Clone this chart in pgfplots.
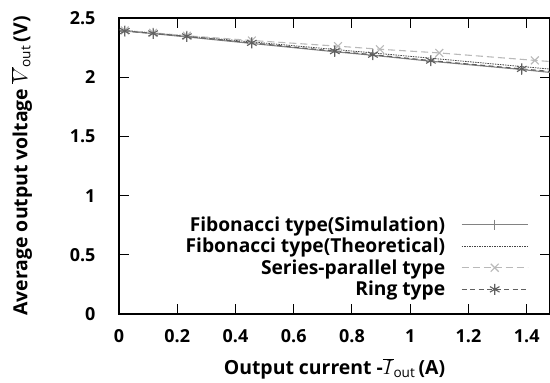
\documentclass[border=0pt]{standalone}
\usepackage{fontspec}
\setmainfont{Open Sans}
\usepackage{pgfplots}
\pgfplotsset{compat=1.18}
\usetikzlibrary{calc}
\definecolor{simc}{RGB}{130,130,130}
\definecolor{theoc}{RGB}{70,70,70}
\definecolor{spc}{RGB}{185,185,185}
\definecolor{ringc}{RGB}{95,95,95}
\begin{document}
\begin{tikzpicture}[x=1bp,y=1bp]
\begin{axis}[
  scale only axis,
  width=431bp, height=296bp,
  xmin=0, xmax=1.48, ymin=0, ymax=2.5,
  xtick={0,0.2,...,1.4}, ytick={0,0.5,...,2.5},
  tick align=inside,
  major tick length=10bp,
  axis line style={line width=1.3pt},
  tick style={line width=1pt, black},
  /pgf/number format/assume math mode=true,
  ticklabel style={font=\fontsize{18}{20}\selectfont\bfseries},
  xticklabel style={yshift=-12bp},
  yticklabel style={xshift=-20bp},
  xlabel={Output current -$\overline{I}_{\mathrm{out}}$\,(A)},
  ylabel={Average output voltage $\overline{V}_{\mathrm{out}}$\,(V)},
  label style={font=\fontsize{19.5}{21}\selectfont\bfseries},
  xlabel style={yshift=-9bp},
  ylabel style={yshift=31bp},
  legend style={at={(rel axis cs:0.957,0.042)}, anchor=south east, draw=none, fill=none,
    font=\fontsize{19.3}{20}\selectfont\bfseries, row sep=1.5bp},
  legend cell align=right,
  legend plot pos=right,
  legend image code/.code={\path (-14bp,0bp); \draw[mark repeat=2,mark phase=2] plot coordinates {(0bp,0bp) (33bp,0bp) (66bp,0bp)};},
  every axis plot/.append style={line width=1.1pt},
]
\addplot[simc, mark=+, mark size=5bp, mark options={solid}] coordinates {
(0.02,2.39) (0.117,2.368) (0.233,2.34) (0.456,2.285) (0.741,2.215) (0.872,2.185) (1.071,2.135) (1.383,2.065) (1.52,2.03)};
\addlegendentry{Fibonacci type(Simulation)}
\addplot[theoc, line width=0.8pt, dash pattern=on 1.5bp off 1bp] coordinates {
(0,2.40) (0.456,2.298) (0.872,2.205) (1.383,2.09) (1.52,2.06)};
\addlegendentry{Fibonacci type(Theoretical)}
\addplot[spc, dash pattern=on 7bp off 4bp, mark=x, mark size=5.5bp, mark options={solid}] coordinates {
(0.02,2.395) (0.117,2.375) (0.233,2.35) (0.456,2.31) (0.752,2.262) (0.896,2.236) (1.10,2.205) (1.428,2.142) (1.52,2.125)};
\addlegendentry{Series-parallel type}
\addplot[ringc, dash pattern=on 5bp off 3.5bp, mark=asterisk, mark size=5.5bp, mark options={solid}] coordinates {
(0.02,2.39) (0.117,2.37) (0.233,2.345) (0.456,2.29) (0.741,2.22) (0.872,2.19) (1.071,2.14) (1.383,2.07) (1.52,2.04)};
\addlegendentry{Ring type}
\end{axis}
\pgfresetboundingbox
\path ($(current axis.south west)+(-119bp,-69bp)$) rectangle ($(current axis.north east)+(0,18bp)$);
\end{tikzpicture}
\end{document}
